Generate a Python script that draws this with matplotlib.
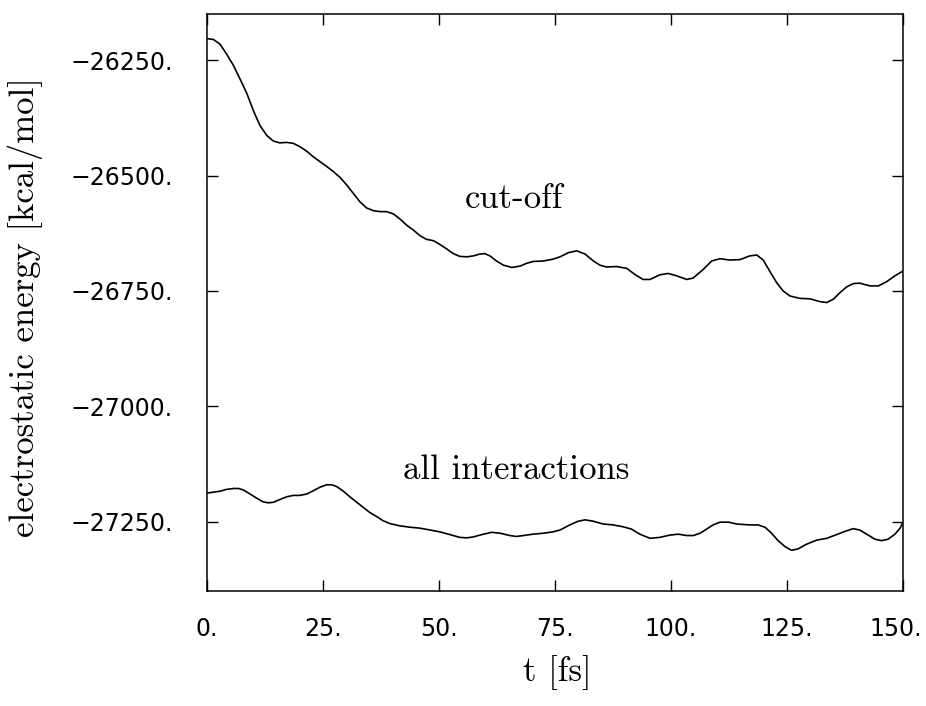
import matplotlib
matplotlib.use("Agg")
import matplotlib.pyplot as plt
import matplotlib.transforms as mtransforms
from matplotlib.ticker import FuncFormatter

# cut-off curve
t_cut = [0, 1.4, 2.8, 4.2, 5.7, 7.1, 8.6, 10.0, 11.4, 12.9, 14.3, 15.7, 17.2,
         18.6, 20.0, 21.5, 22.9, 24.4, 25.8, 27.2, 28.7, 30.1, 31.5, 33.0, 34.4,
         35.9, 37.3, 38.7, 40.2, 41.6, 43.0, 44.5, 45.9, 47.3, 48.8, 50.2, 51.7,
         53.1, 54.5, 56.0, 57.4, 58.8, 59.9, 61.0, 62.4, 63.9, 65.7, 67.5, 68.9,
         70.3, 72.5, 74.6, 76.1, 77.9, 79.7, 81.5, 83.3, 84.7, 86.1, 88.3, 90.5,
         92.2, 94.0, 95.5, 97.6, 99.4, 101.2, 103.4, 104.8, 107.0, 108.8, 110.6,
         112.7, 114.9, 117.0, 118.5, 119.9, 121.3, 122.8, 124.2, 125.7, 127.8,
         130.0, 132.1, 133.6, 135.0, 136.4, 137.9, 139.3, 140.7, 142.9, 144.7,
         146.5, 148.3, 150.0]
e_cut = [-26203, -26205, -26215, -26236, -26261, -26290, -26322, -26359, -26391,
         -26413, -26425, -26429, -26428, -26430, -26437, -26447, -26459, -26470,
         -26480, -26491, -26504, -26520, -26538, -26557, -26570, -26576, -26578,
         -26578, -26583, -26594, -26607, -26618, -26630, -26638, -26641, -26649,
         -26659, -26669, -26675, -26676, -26674, -26670, -26669, -26674, -26685,
         -26694, -26699, -26696, -26690, -26686, -26685, -26681, -26676, -26667,
         -26663, -26670, -26685, -26694, -26698, -26697, -26701, -26714, -26725,
         -26725, -26715, -26712, -26717, -26725, -26722, -26703, -26685, -26680,
         -26683, -26682, -26674, -26672, -26683, -26707, -26732, -26750, -26761,
         -26766, -26767, -26773, -26775, -26768, -26754, -26741, -26734, -26733,
         -26739, -26739, -26730, -26717, -26707]

# all interactions curve
t_all = [0, 1.4, 2.8, 4.2, 5.7, 6.8, 7.8, 9.3, 10.7, 12.1, 13.2, 14.3, 15.7,
         17.2, 18.6, 20.0, 21.5, 22.9, 24.4, 25.8, 26.9, 28.0, 29.4, 30.8, 32.3,
         33.7, 35.1, 36.6, 38.0, 39.4, 41.6, 43.8, 45.9, 48.1, 50.2, 52.4, 54.5,
         56.0, 57.4, 59.6, 61.4, 63.2, 65.3, 66.7, 68.2, 70.3, 72.5, 74.6, 76.1,
         78.2, 80.0, 81.5, 83.3, 85.4, 87.6, 89.7, 91.5, 93.3, 95.5, 97.6, 99.8,
         101.6, 103.4, 104.8, 106.3, 107.7, 109.1, 110.6, 112.4, 114.2, 117.0,
         118.8, 120.3, 121.7, 123.1, 124.6, 126.0, 127.4, 129.2, 131.4, 133.6,
         135.7, 137.5, 139.3, 140.7, 142.2, 144.0, 145.4, 146.8, 148.3, 149.4,
         150.0]
e_all = [-27188, -27186, -27184, -27180, -27178, -27178, -27181, -27190, -27199,
         -27207, -27209, -27208, -27202, -27196, -27193, -27193, -27190, -27183,
         -27175, -27170, -27170, -27174, -27184, -27196, -27208, -27219, -27230,
         -27239, -27248, -27254, -27259, -27262, -27264, -27268, -27272, -27278,
         -27284, -27285, -27283, -27277, -27273, -27275, -27280, -27282, -27280,
         -27277, -27275, -27272, -27268, -27257, -27249, -27246, -27249, -27255,
         -27257, -27261, -27266, -27277, -27286, -27284, -27279, -27277, -27280,
         -27280, -27275, -27266, -27257, -27251, -27251, -27255, -27257, -27257,
         -27262, -27275, -27291, -27304, -27312, -27309, -27299, -27290, -27286,
         -27278, -27271, -27265, -27268, -27277, -27288, -27291, -27288, -27277,
         -27264, -27252]

x_ticks = [0, 25, 50, 75, 100, 125, 150]
y_ticks = [-27250, -27000, -26750, -26500, -26250]

serif = ["cmr10", "DejaVu Serif"]

fig = plt.figure(figsize=(9.26, 7.06), dpi=100)
ax = fig.add_axes([0.2235, 0.163, 0.7515, 0.817])

ax.plot(t_cut, e_cut, color="black", linewidth=1.2)
ax.plot(t_all, e_all, color="black", linewidth=1.2)

ax.set_xlim(0, 150)
ax.set_ylim(-27400, -26150)
ax.set_xticks(x_ticks)
ax.set_yticks(y_ticks)
ax.xaxis.set_major_formatter(FuncFormatter(lambda v, p: f"{v:.0f}."))
ax.yaxis.set_major_formatter(FuncFormatter(lambda v, p: f"{v:.0f}.".replace("-", "\u2212")))
ax.tick_params(direction="in", length=8, width=1, top=True, right=True,
               labelsize=17)
ax.tick_params(axis="x", pad=19)
ax.tick_params(axis="y", pad=24.5)
for lab in ax.get_xticklabels() + ax.get_yticklabels():
    lab.set_family("DejaVu Sans")
for s in ax.spines.values():
    s.set_linewidth(1.1)

# the last x label sits right at the figure edge; nudge it in a little
fig.canvas.draw()
last = ax.xaxis.get_major_ticks()[-1].label1
last.set_transform(last.get_transform()
                   + mtransforms.ScaledTranslation(-5 / 72, 0, fig.dpi_scale_trans))

ax.text(55.6, -26570, "cut-off", family=serif, fontsize=25,
        ha="left", va="baseline")
ax.text(42.2, -27157, "all interactions", family=serif, fontsize=25,
        ha="left", va="baseline")

fig.text(0.602, 0.048, "t [fs]", family=serif, fontsize=25, ha="center", va="center")
fig.text(0.027, 0.565, "electrostatic energy [kcal/mol]", family=serif,
         fontsize=25, rotation=90, ha="center", va="center")

fig.savefig("out.png", dpi=100)
